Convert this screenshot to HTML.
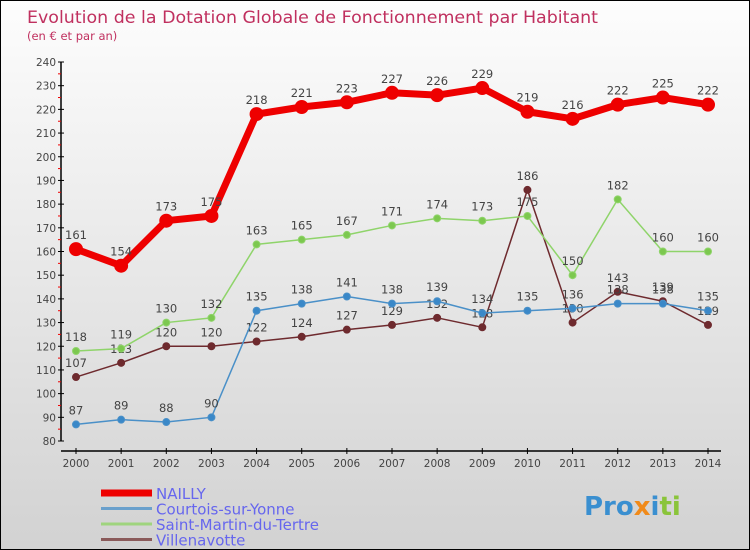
<!DOCTYPE html>
<html><head><meta charset="utf-8"><style>
body{margin:0;}
#wrap{width:750px;height:550px;position:relative;overflow:hidden;box-sizing:border-box;border:1px solid #000;background:linear-gradient(#fdfdfd,#d2d2d2);font-family:"DejaVu Sans","Liberation Sans",sans-serif;}
svg text{font-family:"DejaVu Sans","Liberation Sans",sans-serif;}
</style></head><body>
<div id="wrap">
<svg id="chart" width="750" height="550">
<text x="26" y="22" font-size="17" fill="#c0305f" textLength="571" lengthAdjust="spacingAndGlyphs">Evolution de la Dotation Globale de Fonctionnement par Habitant</text>
<text x="26" y="39" font-size="11.5" fill="#c0305f">(en € et par an)</text>
<g id="axes"></g>
<g id="series"></g>
<g id="legend"></g>
<text x="583" y="514" font-size="26" font-weight="bold"><tspan fill="#3a8fd0">Pro</tspan><tspan fill="#f08a1a">x</tspan><tspan fill="#3a8fd0">i</tspan><tspan fill="#8ac43a">ti</tspan></text>
</svg>
</div>
<script>
const years=[2000,2001,2002,2003,2004,2005,2006,2007,2008,2009,2010,2011,2012,2013,2014];
const yTicks=[80,90,100,110,120,130,140,150,160,170,180,190,200,210,220,230,240];
const nailly=[161,154,173,175,218,221,223,227,226,229,219,216,222,225,222];
const courtois=[87,89,88,90,135,138,141,138,139,134,135,136,138,138,135];
const saintMartin=[118,119,130,132,163,165,167,171,174,173,175,150,182,160,160];
const villenavotte=[107,113,120,120,122,124,127,129,132,128,186,130,143,139,129];
const NS="http://www.w3.org/2000/svg";
function xS(i){return 75+i*(707-75)/(years.length-1);}
function yS(v){return 440-(v-80)*(440-61)/160;}
function mk(tag,attrs,parent){const e=document.createElementNS(NS,tag);for(const k in attrs)e.setAttribute(k,attrs[k]);parent.appendChild(e);return e;}
const axes=document.getElementById('axes');
let yl=mk('line',{x1:60,y1:yS(240),x2:60,y2:440,stroke:'#000','stroke-width':1.5},axes);


let xl=mk('line',{x1:60,y1:450,x2:720,y2:450,stroke:'#000','stroke-width':1.5},axes);


yTicks.forEach(v=>{
 mk('line',{x1:57,y1:yS(v),x2:63,y2:yS(v),stroke:'#000'},axes);
 if(v<240) mk('line',{x1:57,y1:yS(v+5),x2:60,y2:yS(v+5),stroke:'#e00'},axes);
 const t=mk('text',{x:55,y:yS(v)+4,'font-size':10.5,fill:'#444','text-anchor':'end'},axes);
 t.textContent=v;
 
 
});
years.forEach((y,i)=>{
 mk('line',{x1:xS(i),y1:447,x2:xS(i),y2:453,stroke:'#000'},axes);
 const t=mk('text',{x:xS(i),y:466,'font-size':10.5,fill:'#444','text-anchor':'middle'},axes);
 t.textContent=y;
 
 
});
const ser=document.getElementById('series');
function draw(data,color,fill,w,r,name){
 const g=mk('g',{},ser);
 
 
 const pl=mk('polyline',{points:data.map((v,i)=>xS(i)+','+yS(v)).join(' '),fill:'none',stroke:color,'stroke-width':w,'stroke-linejoin':'round'},g);
 
 
 data.forEach((v,i)=>{
  const c=mk('circle',{cx:xS(i),cy:yS(v),r:r,fill:fill,stroke:color,'stroke-width':1},g);
  
  
  const t=mk('text',{x:xS(i),y:yS(v)-10,'font-size':11.5,fill:'#444','text-anchor':'middle'},g);
  t.textContent=v;
  
  
 });
}
draw(villenavotte,'#6e2a2e','#6e2a2e',1.5,3.5,'villenavotte');
draw(saintMartin,'#8fd46a','#7cc84f',1.5,3.5,'saint-martin');
draw(courtois,'#4a90c8','#3a88c8',1.5,3.5,'courtois');
draw(nailly,'#ee0000','#ee0000',7,6.5,'nailly');
const lg=document.getElementById('legend');
const items=[['NAILLY','#ee0000',7],['Courtois-sur-Yonne','#6aa0cc',3],['Saint-Martin-du-Tertre','#9fd47e',3],['Villenavotte','#8a5a5a',3]];
items.forEach((it,k)=>{
 const y=492+k*15.5;
 const g=mk('g',{},lg);
 
 
 mk('line',{x1:100,y1:y,x2:151,y2:y,stroke:it[1],'stroke-width':it[2]},g);
 const t=mk('text',{x:155,y:y+6,'font-size':15,fill:'#6666ee'},g);
 t.textContent=it[0];
});
</script>
</body></html>
